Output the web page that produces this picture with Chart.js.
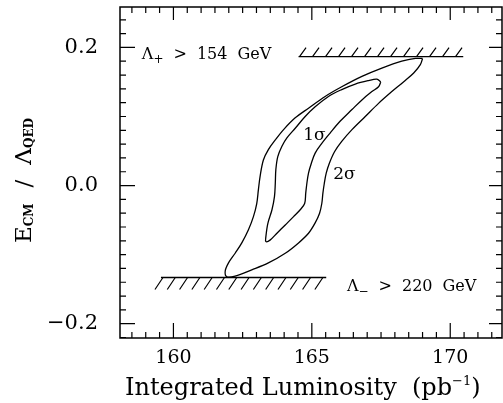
<!DOCTYPE html>
<html>
<head>
<meta charset="utf-8">
<script src="https://cdn.jsdelivr.net/npm/chart.js@4.4.0/dist/chart.umd.min.js"></script>
<style>
    html, body { margin: 0; padding: 0; background: #fff; }
</style>
</head>
<body>
<canvas id="contourChart" width="503" height="403"></canvas>
<script>
// 2 sigma contour: integrated luminosity (pb^-1) vs E_CM / Lambda_QED
const outerX = [169.00, 168.92, 168.68, 168.31, 167.89, 167.41, 166.93, 166.45, 166.08, 165.82,
                165.63, 165.52, 165.45, 165.40, 165.36, 165.28, 165.12, 164.88, 164.52, 164.04,
                163.43, 162.83, 162.23, 161.93, 161.87, 161.99, 162.23, 162.47, 162.71, 162.89,
                163.01, 163.07, 163.13, 163.25, 163.43, 163.68, 163.98, 164.40, 164.88, 165.48,
                166.08, 166.81, 167.53, 168.25, 168.74];
const outerY = [0.184, 0.175, 0.163, 0.150, 0.136, 0.119, 0.100, 0.081, 0.064, 0.049,
                0.032, 0.018, 0.003, -0.011, -0.026, -0.040, -0.054, -0.069, -0.083, -0.098,
                -0.112, -0.122, -0.131, -0.132, -0.124, -0.112, -0.098, -0.083, -0.064, -0.045,
                -0.026, -0.006, 0.013, 0.037, 0.052, 0.066, 0.081, 0.098, 0.112, 0.129,
                0.143, 0.158, 0.170, 0.180, 0.184];

// 1 sigma contour
const innerX = [167.49, 167.41, 167.17, 166.81, 166.45, 166.02, 165.66, 165.36, 165.12, 164.98,
                164.88, 164.82, 164.78, 164.74, 164.58, 164.34, 164.04, 163.74, 163.49, 163.34,
                163.34, 163.41, 163.56, 163.65, 163.68, 163.70, 163.77, 163.92, 164.10, 164.40,
                164.76, 165.12, 165.60, 166.08, 166.57, 167.05, 167.35];
const innerY = [0.150, 0.143, 0.136, 0.124, 0.110, 0.093, 0.076, 0.061, 0.047, 0.032,
                0.018, 0.003, -0.011, -0.026, -0.035, -0.045, -0.057, -0.069, -0.079, -0.081,
                -0.074, -0.055, -0.035, -0.016, 0.003, 0.023, 0.042, 0.057, 0.069, 0.083,
                0.100, 0.114, 0.129, 0.139, 0.147, 0.152, 0.154];

// exclusion limits (hatched lines)
const limitY = [0.1867, -0.1331];
const limitFrom = [164.52, 159.55];
const limitTo = [170.47, 165.52];

// axis ticks
const xTicks = [160, 165, 170];
const yTicks = [-0.2, 0.0, 0.2];

// text labels inside the plot
const noteText = ["1σ", "2σ"];
const noteX = [164.69, 165.77];
const noteY = [0.066, 0.009];

const FONT = '"DejaVu Serif", "Liberation Serif", serif';

function toPoints(xs, ys, close) {
    const pts = xs.map((x, i) => ({ x: x, y: ys[i] }));
    if (close) pts.push(pts[0]);
    return pts;
}

// draw a run of text pieces (sub / superscripts), returns width
function drawParts(ctx, parts, x, y) {
    let cx = x;
    parts.forEach(p => {
        ctx.font = (p.bold ? "bold " : "") + p.size + "px " + FONT;
        ctx.fillText(p.t, cx, y + (p.dy || 0));
        cx += ctx.measureText(p.t).width + (p.gap || 0);
    });
    return cx - x;
}

// frame with inward ticks on all four sides
const framePlugin = {
    id: "frame",
    afterDatasetsDraw(chart) {
        const { ctx, chartArea: a, scales } = chart;
        const xs = scales.x, ys = scales.y;
        ctx.save();
        ctx.strokeStyle = "#000";
        ctx.lineWidth = 1.5;
        ctx.strokeRect(a.left, a.top, a.right - a.left, a.bottom - a.top);
        ctx.lineWidth = 1.2;
        ctx.beginPath();
        for (let v = 158.5; v < xs.max; v += 0.5) {
            const px = xs.getPixelForValue(v);
            const major = Math.abs(v % 5) < 1e-6;
            ctx.moveTo(px, a.bottom); ctx.lineTo(px, a.bottom - (major ? 15 : 6));
            ctx.moveTo(px, a.top); ctx.lineTo(px, a.top + (major ? 13 : 6));
        }
        for (let k = -11; k <= 12; k++) {
            const v = k * 0.02;
            const py = ys.getPixelForValue(v);
            const major = k % 10 === 0;
            ctx.moveTo(a.left, py); ctx.lineTo(a.left + (major ? 15 : 6), py);
            ctx.moveTo(a.right, py); ctx.lineTo(a.right - (major ? 13 : 6), py);
        }
        ctx.stroke();
        ctx.restore();
    }
};

// hatch marks on the limit lines
const hatchPlugin = {
    id: "hatch",
    afterDatasetsDraw(chart) {
        const { ctx, scales } = chart;
        ctx.save();
        ctx.strokeStyle = "#000";
        ctx.lineWidth = 1.2;
        ctx.beginPath();
        // upper limit: hatches above the line
        let py = scales.y.getPixelForValue(limitY[0]);
        let x0 = scales.x.getPixelForValue(limitFrom[0]);
        let x1 = scales.x.getPixelForValue(limitTo[0]);
        for (let px = x0 + 1; px <= x1; px += 13) {
            ctx.moveTo(px, py); ctx.lineTo(px + 6.5, py - 9);
        }
        // lower limit: hatches below the line
        py = scales.y.getPixelForValue(limitY[1]);
        x0 = scales.x.getPixelForValue(limitFrom[1]);
        x1 = scales.x.getPixelForValue(limitTo[1]);
        for (let px = x0 + 2; px <= x1; px += 12.3) {
            ctx.moveTo(px, py); ctx.lineTo(px - 8, py + 12);
        }
        ctx.stroke();
        ctx.restore();
    }
};

// axis titles and annotations
const textPlugin = {
    id: "texts",
    afterDraw(chart) {
        const { ctx, scales } = chart;
        const xs = scales.x, ys = scales.y;
        ctx.save();
        ctx.fillStyle = "#000";
        ctx.textBaseline = "alphabetic";
        ctx.textAlign = "left";

        // limit labels
        drawParts(ctx, [
            { t: "Λ", size: 16 },
            { t: "+", size: 12, dy: 4, gap: 10 },
            { t: ">", size: 16, gap: 10 },
            { t: "154", size: 16, gap: 10 },
            { t: "GeV", size: 16 }
        ], xs.getPixelForValue(158.86), ys.getPixelForValue(0.183));
        drawParts(ctx, [
            { t: "Λ", size: 16 },
            { t: "−", size: 12, dy: 4, gap: 10 },
            { t: ">", size: 16, gap: 10 },
            { t: "220", size: 16, gap: 10 },
            { t: "GeV", size: 16 }
        ], xs.getPixelForValue(166.27), ys.getPixelForValue(-0.153));

        // contour labels
        noteText.forEach((t, i) => {
            ctx.font = "17px " + FONT;
            ctx.fillText(t, xs.getPixelForValue(noteX[i]), ys.getPixelForValue(noteY[i]));
        });

        // x title
        drawParts(ctx, [
            { t: "Integrated Luminosity  (pb", size: 24 },
            { t: "−1", size: 13, dy: -10 },
            { t: ")", size: 24 }
        ], 125, 395);

        // y title (rotated)
        ctx.translate(31, 243);
        ctx.rotate(-Math.PI / 2);
        drawParts(ctx, [
            { t: "E", size: 23 },
            { t: "CM", size: 12, bold: true, dy: 2, gap: 16 },
            { t: "/", size: 23, gap: 15 },
            { t: "Λ", size: 23 },
            { t: "QED", size: 12, bold: true, dy: 2 }
        ], 0, 0);
        ctx.restore();
    }
};

const lineStyle = {
    showLine: true,
    borderColor: "#000",
    borderWidth: 1.3,
    pointRadius: 0,
    fill: false
};

const ctx = document.getElementById("contourChart").getContext("2d");
new Chart(ctx, {
    type: "scatter",
    data: {
        datasets: [
            Object.assign({ data: toPoints(outerX, outerY, true), tension: 0.35 }, lineStyle),
            Object.assign({ data: toPoints(innerX, innerY, true), tension: 0.35 }, lineStyle),
            Object.assign({ data: toPoints([limitFrom[0], limitTo[0]], [limitY[0], limitY[0]]), borderWidth: 1.5 }, lineStyle),
            Object.assign({ data: toPoints([limitFrom[1], limitTo[1]], [limitY[1], limitY[1]]), borderWidth: 1.5 }, lineStyle)
        ]
    },
    options: {
        responsive: false,
        animation: false,
        devicePixelRatio: 1,
        layout: { padding: { top: 7, right: 1, left: 0, bottom: 0 } },
        plugins: {
            legend: { display: false },
            tooltip: { enabled: false }
        },
        scales: {
            x: {
                type: "linear",
                min: 158.07,
                max: 171.87,
                afterBuildTicks: s => { s.ticks = xTicks.map(v => ({ value: v })); },
                afterFit: s => { s.height = 65; s.paddingLeft = 0; s.paddingRight = 0; },
                grid: { display: false, drawTicks: false },
                border: { display: false },
                ticks: {
                    color: "#000",
                    padding: 9,
                    maxRotation: 0,
                    font: { family: FONT, size: 19 },
                    callback: v => String(v)
                }
            },
            y: {
                type: "linear",
                min: -0.2207,
                max: 0.2585,
                afterBuildTicks: s => { s.ticks = yTicks.map(v => ({ value: v })); },
                afterFit: s => { s.width = 120; s.paddingTop = 0; s.paddingBottom = 0; },
                grid: { display: false, drawTicks: false },
                border: { display: false },
                ticks: {
                    color: "#000",
                    padding: 22,
                    font: { family: FONT, size: 21 },
                    callback: v => (v < 0 ? "−" : "") + Math.abs(v).toFixed(1)
                }
            }
        }
    },
    plugins: [framePlugin, hatchPlugin, textPlugin]
});
</script>
</body>
</html>
